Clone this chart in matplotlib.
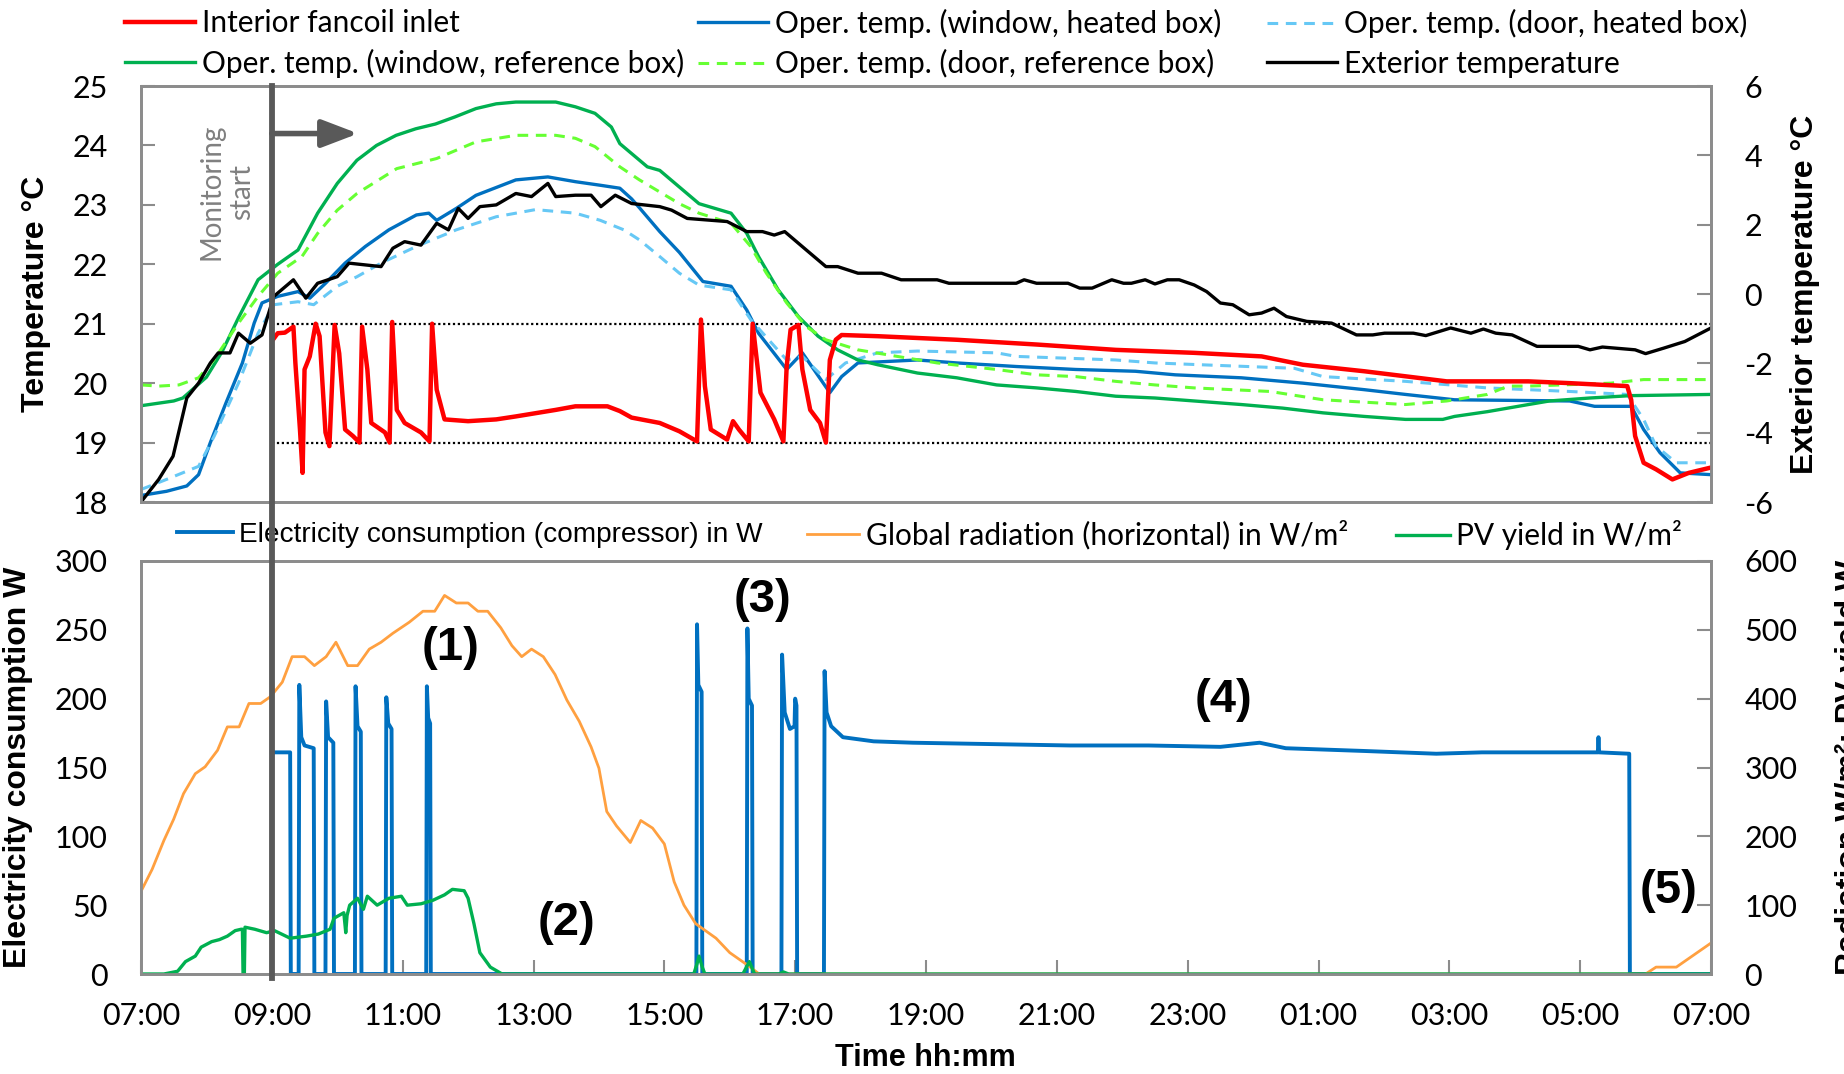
import matplotlib
matplotlib.use("Agg")
from matplotlib import pyplot as plt
from matplotlib.lines import Line2D
import matplotlib.transforms as mtransforms

plt.rcParams["axes.unicode_minus"] = False

# ---------------- data (time in hours after 07:00) ----------------
tick_hours = [0, 2, 4, 6, 8, 10, 12, 14, 16, 18, 20, 22, 24]
tick_labels = ["07:00", "09:00", "11:00", "13:00", "15:00", "17:00", "19:00",
               "21:00", "23:00", "01:00", "03:00", "05:00", "07:00"]
monitor_start = 2.0
band_limits = [19, 21]

# interior fancoil inlet
red_t = [2.03, 2.09, 2.2, 2.33, 2.36, 2.43, 2.47, 2.5, 2.58, 2.67, 2.73, 2.82, 2.88, 2.96,
         3.03, 3.12, 3.24, 3.34, 3.38, 3.46, 3.52, 3.73, 3.8, 3.84, 3.91, 4.03, 4.28, 4.41,
         4.45, 4.52, 4.64, 5.0, 5.43, 5.73, 6.34, 6.64, 7.13, 7.32, 7.5, 7.93, 8.23, 8.5,
         8.56, 8.62, 8.71, 8.96, 9.05, 9.14, 9.29, 9.35, 9.47, 9.68, 9.82, 9.87, 9.93, 10.05,
         10.11, 10.23, 10.38, 10.47, 10.53, 10.62, 10.71, 11.26, 12.47, 13.69, 14.9, 16.1,
         17.13, 17.76, 18.7, 19.96, 21.21, 21.84, 22.72, 22.78, 22.84, 22.97, 23.16, 23.41,
         23.66, 24.0]
red_v = [20.75, 20.84, 20.85, 20.95, 20.34, 19.22, 18.49, 20.23, 20.45, 21.0, 20.79, 19.17,
         18.94, 20.98, 20.5, 19.22, 19.11, 19.0, 20.95, 20.23, 19.33, 19.17, 19.0, 21.03,
         19.55, 19.33, 19.17, 19.02, 21.0, 19.89, 19.39, 19.36, 19.39, 19.44, 19.55, 19.61,
         19.61, 19.53, 19.42, 19.33, 19.19, 19.02, 21.07, 19.95, 19.22, 19.05, 19.36, 19.22,
         19.02, 21.0, 19.84, 19.39, 19.02, 20.28, 20.9, 20.98, 20.23, 19.55, 19.33, 19.0,
         20.39, 20.73, 20.81, 20.79, 20.73, 20.65, 20.56, 20.51, 20.45, 20.31, 20.2, 20.03,
         20.03, 20.0, 19.95, 19.72, 19.11, 18.66, 18.55, 18.38, 18.49, 18.58]

# operative temperature, window, heated box
bw_t = [0, 0.39, 0.7, 0.88, 1.06, 1.3, 1.55, 1.73, 1.85, 2.09, 2.4, 2.58, 2.82, 3.12, 3.43,
        3.79, 4.21, 4.4, 4.52, 4.82, 5.12, 5.73, 6.22, 6.64, 7.02, 7.32, 7.5, 7.62, 7.93, 8.23,
        8.59, 9.02, 9.26, 9.44, 9.87, 10.11, 10.53, 10.71, 10.96, 11.87, 12.47, 13.38, 14.29,
        15.2, 15.81, 16.82, 17.76, 18.7, 19.33, 20.08, 21.84, 22.22, 22.78, 22.97, 23.22,
        23.53, 24.0]
bw_v = [18.11, 18.18, 18.27, 18.46, 19.0, 19.67, 20.34, 21.01, 21.35, 21.46, 21.54, 21.43,
        21.68, 22.02, 22.3, 22.58, 22.83, 22.86, 22.74, 22.94, 23.16, 23.42, 23.47, 23.39,
        23.33, 23.28, 23.1, 22.95, 22.55, 22.2, 21.71, 21.63, 21.23, 20.84, 20.23, 20.51,
        19.84, 20.11, 20.34, 20.39, 20.34, 20.28, 20.23, 20.2, 20.14, 20.09, 20.0, 19.89,
        19.81, 19.72, 19.7, 19.61, 19.61, 19.22, 18.83, 18.49, 18.46]

# operative temperature, door, heated box
bd_t = [0, 0.39, 0.88, 1.12, 1.49, 1.79, 2.03, 2.4, 2.64, 3.0, 3.3, 3.67, 4.21, 4.82, 5.43,
        6.03, 6.64, 7.02, 7.38, 7.62, 7.93, 8.23, 8.53, 9.02, 9.32, 9.87, 10.11, 10.47, 10.77,
        11.26, 11.87, 13.08, 13.38, 14.9, 15.5, 16.19, 17.63, 18.07, 19.33, 20.58, 21.84,
        22.72, 22.97, 23.16, 23.47, 24.0]
bd_v = [18.21, 18.38, 18.6, 19.11, 20.0, 20.84, 21.32, 21.37, 21.32, 21.63, 21.79, 22.02,
        22.3, 22.58, 22.8, 22.92, 22.86, 22.74, 22.58, 22.41, 22.13, 21.85, 21.65, 21.57,
        21.07, 20.39, 20.45, 20.06, 20.34, 20.51, 20.54, 20.51, 20.45, 20.39, 20.34, 20.31,
        20.25, 20.11, 20.03, 19.92, 19.86, 19.81, 19.39, 18.94, 18.66, 18.66]

# operative temperature, window, reference box
gw_t = [0, 0.5, 0.64, 1.0, 1.24, 1.49, 1.79, 2.09, 2.4, 2.7, 3.0, 3.3, 3.6, 3.9, 4.2, 4.5,
        4.8, 5.12, 5.43, 5.73, 6.34, 6.64, 6.94, 7.19, 7.32, 7.74, 7.93, 8.23, 8.53, 9.02,
        9.26, 9.44, 9.74, 10.05, 10.35, 10.65, 10.96, 11.26, 11.87, 12.47, 13.08, 13.69,
        14.29, 14.9, 15.5, 16.1, 16.82, 17.45, 18.07, 18.7, 19.33, 19.9, 20.08, 20.58, 21.21,
        21.53, 22.15, 22.78, 24.0]
gw_v = [19.62, 19.7, 19.75, 20.1, 20.53, 21.1, 21.74, 22.0, 22.24, 22.86, 23.36, 23.75,
        24.0, 24.17, 24.28, 24.36, 24.48, 24.62, 24.7, 24.73, 24.73, 24.65, 24.54, 24.31,
        24.03, 23.64, 23.58, 23.3, 23.02, 22.86, 22.52, 22.13, 21.57, 21.12, 20.79, 20.56,
        20.39, 20.31, 20.17, 20.09, 19.97, 19.92, 19.86, 19.78, 19.75, 19.7, 19.64, 19.58,
        19.5, 19.44, 19.39, 19.39, 19.44, 19.52, 19.64, 19.7, 19.75, 19.79, 19.81]

# operative temperature, door, reference box
gd_t = [0, 0.27, 0.58, 0.88, 1.12, 1.49, 1.79, 2.09, 2.46, 2.7, 3.0, 3.3, 3.91, 4.52, 4.82,
        5.12, 5.73, 6.34, 6.64, 6.94, 7.32, 7.62, 8.23, 8.53, 9.02, 9.32, 9.56, 9.87, 10.17,
        10.47, 10.96, 11.56, 12.17, 13.08, 13.69, 14.29, 14.9, 15.5, 16.1, 17.26, 18.07,
        19.33, 19.96, 20.58, 20.9, 21.21, 22.47, 22.97, 24.0]
gd_v = [19.97, 19.95, 19.97, 20.09, 20.4, 21.01, 21.46, 21.85, 22.13, 22.52, 22.91, 23.19,
        23.61, 23.78, 23.92, 24.06, 24.17, 24.17, 24.12, 23.98, 23.64, 23.42, 23.02, 22.86,
        22.69, 22.3, 21.85, 21.35, 20.95, 20.73, 20.56, 20.45, 20.34, 20.23, 20.14, 20.11,
        20.03, 19.97, 19.92, 19.86, 19.72, 19.64, 19.7, 19.81, 19.95, 19.95, 20.0, 20.06,
        20.06]

# exterior temperature (right axis)
ext_t = [0, 0.27, 0.49, 0.7, 0.88, 1.06, 1.18, 1.36, 1.49, 1.67, 1.85, 2.03, 2.33, 2.52, 2.7,
         3.0, 3.18, 3.67, 3.85, 4.03, 4.28, 4.52, 4.7, 4.85, 5.0, 5.18, 5.43, 5.73, 5.97,
         6.22, 6.34, 6.64, 6.88, 7.03, 7.25, 7.5, 7.93, 8.11, 8.35, 8.96, 9.26, 9.5, 9.68,
         9.84, 10.17, 10.47, 10.65, 10.96, 11.32, 11.62, 12.17, 12.35, 13.38, 13.5, 13.69,
         14.17, 14.35, 14.54, 14.84, 15.02, 15.14, 15.35, 15.5, 15.69, 15.87, 16.1, 16.29,
         16.5, 16.69, 16.94, 17.13, 17.32, 17.51, 17.82, 18.2, 18.58, 18.83, 19.01, 19.45,
         19.64, 20.02, 20.33, 20.52, 20.71, 20.96, 21.34, 21.97, 22.15, 22.34, 22.84, 23.0,
         23.28, 23.6, 24.0]
ext_v = [-6, -5.35, -4.68, -3.0, -2.57, -1.99, -1.7, -1.7, -1.13, -1.42, -1.18, -0.07, 0.41,
         -0.12, 0.31, 0.5, 0.89, 0.79, 1.32, 1.51, 1.41, 2.04, 1.85, 2.47, 2.18, 2.52, 2.57,
         2.9, 2.81, 3.19, 2.81, 2.85, 2.85, 2.52, 2.85, 2.61, 2.52, 2.42, 2.18, 2.09, 1.8,
         1.8, 1.7, 1.8, 1.27, 0.79, 0.79, 0.6, 0.6, 0.41, 0.41, 0.31, 0.31, 0.41, 0.31, 0.31,
         0.17, 0.17, 0.41, 0.31, 0.31, 0.41, 0.29, 0.41, 0.41, 0.26, 0.07, -0.26, -0.31,
         -0.6, -0.55, -0.41, -0.65, -0.79, -0.84, -1.18, -1.18, -1.13, -1.13, -1.2, -0.98,
         -1.13, -1.01, -1.13, -1.18, -1.51, -1.51, -1.61, -1.53, -1.61, -1.72, -1.56, -1.37,
         -0.98]

# compressor electricity consumption in W
cons_t = [2.0, 2.28, 2.29, 2.41, 2.42, 2.45, 2.5, 2.64, 2.65, 2.82, 2.83, 2.86, 2.94, 2.95,
          3.27, 3.28, 3.31, 3.36, 3.37, 3.74, 3.75, 3.78, 3.83, 3.84, 4.36, 4.37, 4.39, 4.42,
          4.43, 8.49, 8.5, 8.52, 8.57, 8.58, 9.26, 9.27, 9.29, 9.34, 9.35, 9.79, 9.8, 9.84,
          9.92, 9.99, 10.0, 10.02, 10.03, 10.44, 10.45, 10.48, 10.55, 10.73, 11.2, 11.8, 13.0,
          14.2, 15.4, 16.5, 17.1, 17.5, 18.7, 19.8, 20.5, 22.27, 22.28, 22.29, 22.75, 22.76,
          24.0]
cons_v = [161, 161, 0, 0, 210, 172, 166, 164, 0, 0, 198, 172, 168, 0, 0, 209, 180, 176, 0, 0,
          201, 182, 178, 0, 0, 209, 186, 182, 0, 0, 254, 210, 205, 0, 0, 251, 200, 195, 0, 0,
          232, 190, 178, 180, 200, 195, 0, 0, 220, 190, 180, 172, 169, 168, 167, 166, 166,
          165, 168, 164, 162, 160, 161, 161, 172, 161, 160, 0, 0]

# global radiation (horizontal) in W/m2
rad_t = [0, 0.17, 0.35, 0.5, 0.65, 0.83, 0.98, 1.17, 1.32, 1.5, 1.65, 1.83, 1.98, 2.16, 2.31,
         2.5, 2.65, 2.83, 2.98, 3.16, 3.31, 3.49, 3.67, 3.85, 4.1, 4.31, 4.49, 4.64, 4.82, 5.0,
         5.15, 5.3, 5.5, 5.67, 5.82, 5.97, 6.15, 6.33, 6.51, 6.7, 6.88, 7.0, 7.12, 7.27, 7.48,
         7.64, 7.82, 8.0, 8.15, 8.3, 8.48, 8.79, 9.0, 9.27, 9.45, 9.82, 23.0, 23.16, 23.47,
         24.0]
rad_v = [120, 152, 194, 225, 262, 291, 301, 325, 359, 359, 393, 393, 403, 424, 461, 461, 448,
         461, 482, 448, 448, 472, 482, 495, 511, 527, 527, 550, 539, 539, 527, 527, 503, 477,
         461, 472, 461, 435, 398, 367, 330, 299, 236, 215, 191, 223, 212, 189, 134, 100, 73,
         52, 31, 13, 0, 0, 0, 10, 10, 45]

# PV yield in W/m2
pv_t = [0, 0.35, 0.56, 0.68, 0.83, 0.92, 1.08, 1.2, 1.32, 1.44, 1.53, 1.55, 1.56, 1.58, 1.59,
        1.74, 1.92, 2.04, 2.28, 2.53, 2.71, 2.89, 2.95, 3.1, 3.12, 3.13, 3.15, 3.19, 3.31, 3.4,
        3.46, 3.61, 3.79, 3.98, 4.07, 4.28, 4.46, 4.64, 4.76, 4.94, 5.0, 5.09, 5.18, 5.34,
        5.52, 8.45, 8.5, 8.53, 8.58, 8.62, 9.2, 9.3, 9.38, 9.75, 9.82, 9.9, 24.0]
pv_v = [0, 0, 4, 18, 26, 39, 47, 50, 55, 63, 65, 65, 0, 0, 68, 65, 60, 63, 52, 55, 58, 65, 81,
        89, 70, 60, 85, 100, 110, 94, 113, 100, 110, 113, 100, 102, 107, 115, 123, 121, 110,
        73, 31, 10, 0, 0, 15, 26, 10, 0, 0, 18, 0, 0, 3, 0, 0]

phase_labels = ["(1)", "(2)", "(3)", "(4)", "(5)"]

# ---------------- figure ----------------
W, H = 1844, 1074
fig = plt.figure(figsize=(W / 100, H / 100), dpi=100)
ax1 = fig.add_axes([141 / W, 1 - 502 / H, 1570 / W, 416 / H])
ax2 = fig.add_axes([141 / W, 1 - 974 / H, 1570 / W, 413 / H])
ax1b = ax1.twinx()
ax2b = ax2.twinx()

tick_font = "Lato"
spine_c = "#8c8c8c"

# upper panel
l_red, = ax1.plot(red_t, red_v, color="#ff0000", lw=3.2, zorder=4)
l_bw, = ax1.plot(bw_t, bw_v, color="#0070c0", lw=2.4, zorder=3)
l_bd, = ax1.plot(bd_t, bd_v, color="#66c8f5", lw=2.2, dashes=(3.5, 2.5), zorder=3)
l_gw, = ax1.plot(gw_t, gw_v, color="#00b050", lw=2.4, zorder=3)
l_gd, = ax1.plot(gd_t, gd_v, color="#66ff33", lw=2.2, dashes=(3.5, 2.5), zorder=3)
l_ext, = ax1b.plot(ext_t, ext_v, color="black", lw=2.4)
ax1.hlines(band_limits, monitor_start, 24, colors="black", linestyles=(0, (1, 1.2)), lw=1.6, zorder=2)

ax1.set_xlim(0, 24)
ax1.set_ylim(18, 25)
ax1b.set_ylim(-6, 6)
ax1.set_yticks(range(18, 26))
ax1b.set_yticks(range(-6, 7, 2))

# lower panel
l_cons, = ax2.plot(cons_t, cons_v, color="#0070c0", lw=2.8)
l_rad, = ax2b.plot(rad_t, rad_v, color="#ffa040", lw=2)
l_pv, = ax2b.plot(pv_t, pv_v, color="#00b050", lw=2.4)
ax2.set_xlim(0, 24)
ax2.set_ylim(0, 300)
ax2b.set_ylim(0, 600)
ax2.set_yticks(range(0, 301, 50))
ax2b.set_yticks(range(0, 601, 100))
ax2.set_xticks(tick_hours)
ax2.set_xticklabels(tick_labels)

for a in (ax1, ax1b, ax2, ax2b):
    for s in a.spines.values():
        s.set_color(spine_c)
        s.set_linewidth(2)
    a.tick_params(direction="in", length=10, width=1.5, color=spine_c, labelsize=22, pad=24)
    for lab in a.get_xticklabels() + a.get_yticklabels():
        lab.set_family(tick_font)
ax1.tick_params(axis="x", length=0, labelbottom=False)
ax1b.tick_params(axis="x", length=0, labelbottom=False)
ax2b.tick_params(axis="x", length=0)
ax2.tick_params(axis="x", pad=20)
ax2.tick_params(axis="y", length=0)

# phase numbers
phase_pos = [(4.73, 237), (6.5, 37), (9.5, 272), (16.55, 199), (23.35, 60)]
for lab, (px, py) in zip(phase_labels, phase_pos):
    ax2.text(px, py, lab, ha="center", va="center", fontsize=34, fontweight="bold",
             family="Liberation Sans", zorder=6)

# monitoring start marker across both panels
tr = mtransforms.blended_transform_factory(ax2.transData, fig.transFigure)
fig.add_artist(Line2D([monitor_start, monitor_start], [1 - 978 / H, 1 - 86 / H],
                      transform=tr, color="#595959", lw=4.2, zorder=10))
ax1.annotate("", xy=(3.32, 24.2), xytext=(monitor_start, 24.2),
             arrowprops=dict(arrowstyle="-|>,head_length=1.1,head_width=0.42", lw=4,
                             color="#595959", shrinkA=0, shrinkB=0, mutation_scale=20),
             zorder=6)
ax1.text(1.31, 23.22, "Monitoring\nstart", rotation=90, ha="center", va="center",
         multialignment="center", color="#808080", fontsize=20, family=tick_font)

# axis titles
lab_kw = dict(rotation=90, ha="center", va="center", fontsize=23, fontweight="bold",
              family="Liberation Sans")
fig.text(36 / W, 1 - 294 / H, "Temperature °C", **lab_kw)
fig.text(18 / W, 1 - 767 / H, "Electricity consumption W", **lab_kw)
fig.text(1805 / W, 1 - 294 / H, "Exterior temperature °C", **lab_kw)
fig.text(1835 / W, 1 - 767 / H, "Radiation W/m²; PV yield W", rotation=90, ha="left",
         va="center", fontsize=23, fontweight="bold", family="Liberation Sans")
fig.text(925 / W, 1 - 1058 / H, "Time hh:mm", ha="center", va="center", fontsize=22,
         fontweight="bold", family="Liberation Sans")

# legends
leg_kw = dict(loc="center left", frameon=False, borderpad=0, borderaxespad=0,
              handletextpad=0.22, labelspacing=0.38)
top_cols = [([l_red, l_gw], ["Interior fancoil inlet", "Oper. temp. (window, reference box)"], 125),
            ([l_bw, l_gd], ["Oper. temp. (window, heated box)", "Oper. temp. (door, reference box)"], 698),
            ([l_bd, l_ext], ["Oper. temp. (door, heated box)", "Exterior temperature"], 1267)]
for hs, ls, x0 in top_cols:
    fig.legend(hs, ls, bbox_to_anchor=(x0 / W, 1 - 43.5 / H), handlelength=2.35,
               prop={"family": tick_font, "size": 21.5}, **leg_kw)

fig.legend([l_cons], ["Electricity consumption (compressor) in W"],
           bbox_to_anchor=(177 / W, 1 - 535 / H), handlelength=2.0,
           prop={"family": "Liberation Sans", "size": 20.2}, **leg_kw)
fig.legend([l_rad], ["Global radiation (horizontal) in W/m²"],
           bbox_to_anchor=(807 / W, 1 - 535 / H), handlelength=1.75,
           prop={"family": tick_font, "size": 21.5}, **leg_kw)
fig.legend([l_pv], ["PV yield in W/m²"],
           bbox_to_anchor=(1396 / W, 1 - 535 / H), handlelength=1.8,
           prop={"family": tick_font, "size": 21.5}, **leg_kw)

plt.savefig("out.png", dpi=100)
